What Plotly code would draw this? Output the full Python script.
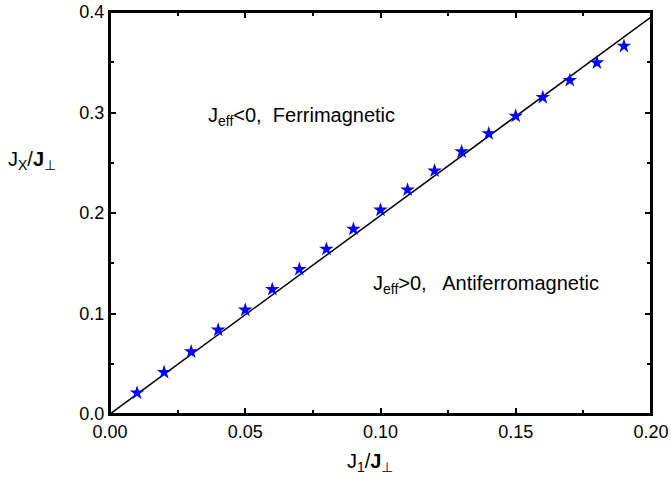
import plotly.graph_objects as go

j1 = [0.01, 0.02, 0.03, 0.04, 0.05, 0.06, 0.07, 0.08, 0.09, 0.10,
      0.11, 0.12, 0.13, 0.14, 0.15, 0.16, 0.17, 0.18, 0.19]
jx = [0.021, 0.0415, 0.062, 0.0836, 0.1035, 0.124, 0.144, 0.164, 0.184, 0.203,
      0.223, 0.242, 0.261, 0.279, 0.2965, 0.315, 0.332, 0.3495, 0.366]
line_x = [0.0, 0.2]
line_y = [0.0, 0.395]

x_ticks = [0.00, 0.05, 0.10, 0.15, 0.20]
x_ticklabels = ["0.00", "0.05", "0.10", "0.15", "0.20"]
y_ticks = [0.0, 0.1, 0.2, 0.3, 0.4]
y_ticklabels = ["0.0", "0.1", "0.2", "0.3", "0.4"]

FONT = "Arial"

fig = go.Figure()
fig.add_trace(go.Scatter(x=line_x, y=line_y, mode="lines",
                         line=dict(color="black", width=1.5), showlegend=False))
fig.add_trace(go.Scatter(x=j1, y=jx, mode="markers",
                         marker=dict(symbol="star", size=11, color="#0000ff",
                                     line=dict(width=0)),
                         showlegend=False))

axis_common = dict(showgrid=False, zeroline=False, showline=True, linecolor="black",
                   linewidth=2, mirror="ticks", ticks="inside", ticklen=6,
                   tickwidth=2, tickcolor="black", automargin=False,
                   ticklabeloverflow="allow",
                   tickfont=dict(family=FONT, size=18, color="black"))

fig.update_xaxes(range=[0, 0.2], tickvals=x_ticks, ticktext=x_ticklabels,
                 minor=dict(dtick=0.025, ticks="inside", ticklen=4, tickwidth=2,
                            tickcolor="black"),
                 **axis_common)
fig.update_yaxes(range=[0, 0.4], tickvals=y_ticks, ticktext=y_ticklabels,
                 minor=dict(dtick=0.05, ticks="inside", ticklen=4, tickwidth=2,
                            tickcolor="black"),
                 **axis_common)

# Frame around the plotting area
fig.add_shape(type="rect", xref="paper", yref="paper", x0=0, y0=0, x1=1, y1=1,
              line=dict(color="black", width=2), layer="above")

fig.add_annotation(text="J<sub>X</sub>/<b>J</b><sub>⊥</sub>", xref="paper", yref="paper",
                   x=-0.192, y=0.63, xanchor="left", yanchor="middle", showarrow=False,
                   font=dict(family=FONT, size=20, color="black"))
fig.add_annotation(text="J<sub>1</sub>/<b>J</b><sub>⊥</sub>", xref="paper", yref="paper",
                   x=0.48, y=-0.085, xanchor="center", yanchor="top", showarrow=False,
                   font=dict(family=FONT, size=20, color="black"))
fig.add_annotation(text="J<sub>eff</sub><0,  Ferrimagnetic", xref="x", yref="y",
                   x=0.0355, y=0.296, xanchor="left", yanchor="middle", showarrow=False,
                   font=dict(family=FONT, size=20, color="black"))
fig.add_annotation(text="J<sub>eff</sub>>0,   Antiferromagnetic", xref="x", yref="y",
                   x=0.0965, y=0.129, xanchor="left", yanchor="middle", showarrow=False,
                   font=dict(family=FONT, size=20, color="black"))

fig.update_layout(width=671, height=481, plot_bgcolor="white", paper_bgcolor="white",
                  margin=dict(l=110, r=20, t=12, b=67),
                  font=dict(family=FONT, color="black"))

# Remove the page's default 8px body margin so the figure fills the window.
fig.write_html("out.html",
               config={"displayModeBar": False},
               post_script="document.body.style.margin='0';document.body.style.overflow='hidden';")
